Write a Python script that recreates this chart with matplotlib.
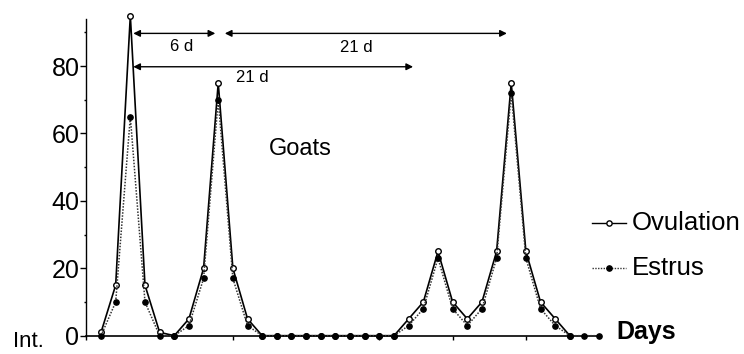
import numpy as np
import matplotlib
matplotlib.use("Agg")
import matplotlib.pyplot as plt
from matplotlib.ticker import MultipleLocator

# data (one point per day)
ovulation = [1, 15, 95, 15, 1, 0, 5, 20, 75, 20, 5,
             0, 0, 0, 0, 0, 0, 0, 0, 0, 0,
             5, 10, 25, 10, 5, 10, 25, 75, 25, 10, 5, 0]
estrus = [0, 10, 65, 10, 0, 0, 3, 17, 70, 17, 3,
          0, 0, 0, 0, 0, 0, 0, 0, 0, 0,
          3, 8, 23, 8, 3, 8, 23, 72, 23, 8, 3, 0, 0, 0]
days_ov = np.arange(len(ovulation))
days_es = np.arange(len(estrus))
y_ticks = [0, 20, 40, 60, 80]
x_ticks = [-1, 9, 19, 24, 29]

plt.rcParams['font.family'] = ['Liberation Sans', 'DejaVu Sans']

fig = plt.figure(figsize=(7.44, 3.54), dpi=100)
ax = fig.add_axes([0.1161, 0.0517, 0.7089, 0.8949])

ax.plot(days_ov, ovulation, color='black', lw=1.2, ls='-',
        marker='o', ms=4, mfc='white', mec='black', mew=1, clip_on=False, zorder=3)
ax.plot(days_es, estrus, color='#333333', lw=1.1, ls=(0, (1, 1)),
        marker='o', ms=3.8, mfc='black', mec='black', clip_on=False, zorder=4)

ax.set_xlim(-1, 35)
ax.set_ylim(0, 94)
for s in ['top', 'right']:
    ax.spines[s].set_visible(False)
ax.spines['bottom'].set_bounds(-1, 34)
ax.spines['left'].set_bounds(0, 94)
ax.spines['bottom'].set_linewidth(1.2)
ax.spines['left'].set_linewidth(1.0)

ax.set_yticks(y_ticks)
ax.set_yticklabels([str(v) for v in y_ticks], fontsize=18)
ax.yaxis.set_minor_locator(MultipleLocator(10))
ax.tick_params(axis='y', which='major', length=4, width=1, pad=1)
ax.tick_params(axis='y', which='minor', length=1.5, width=1)
ax.set_xticks(x_ticks)
ax.set_xticklabels([])
ax.tick_params(axis='x', length=3, width=1)

# interval arrows
arr = dict(arrowstyle='<|-|>', color='black', lw=1, mutation_scale=10, shrinkA=0, shrinkB=0)
ax.annotate('', xy=(2.2, 89.7), xytext=(7.8, 89.7), arrowprops=arr, annotation_clip=False)
ax.annotate('', xy=(8.45, 89.7), xytext=(27.7, 89.7), arrowprops=arr, annotation_clip=False)
ax.annotate('', xy=(2.2, 79.8), xytext=(21.3, 79.8), arrowprops=arr, annotation_clip=False)
ax.text(5.5, 85.8, '6 d', fontsize=12, ha='center', va='center')
ax.text(17.4, 85.4, '21 d', fontsize=12, ha='center', va='center')
ax.text(10.3, 76.5, '21 d', fontsize=12, ha='center', va='center')

ax.text(13.6, 55.4, 'Goats', fontsize=17, ha='center', va='center')

# hand-made legend on the right
ax.plot([33.5, 35.8], [33.4, 33.4], color='black', lw=1, clip_on=False)
ax.plot([34.65], [33.4], marker='o', ms=3.8, mfc='white', mec='black', clip_on=False)
ax.plot([33.5, 35.8], [20, 20], color='#333333', lw=1, ls=(0, (1, 1)), clip_on=False)
ax.plot([34.65], [20], marker='o', ms=3.8, mfc='black', mec='black', clip_on=False)
ax.text(36.2, 33.4, 'Ovulation', fontsize=18.5, va='center', ha='left')
ax.text(36.2, 20, 'Estrus', fontsize=18.5, va='center', ha='left')
ax.text(35.2, 1.2, 'Days', fontsize=18, fontweight='bold', va='center', ha='left')

fig.text(13 / 744, 2 / 354, 'Int.', fontsize=16, va='bottom', ha='left')

fig.savefig('out.png', dpi=100)
